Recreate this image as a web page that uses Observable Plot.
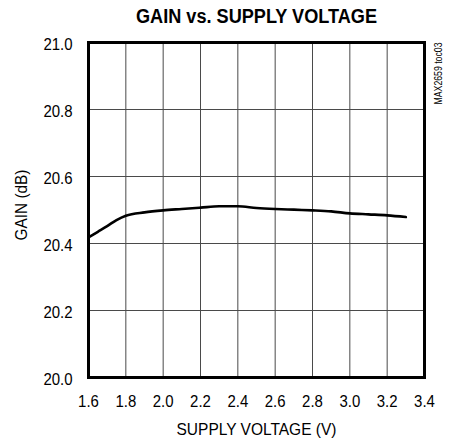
<!DOCTYPE html>
<html>
<head>
<meta charset="utf-8">
<script src="https://cdn.jsdelivr.net/npm/d3@7"></script>
<script src="https://cdn.jsdelivr.net/npm/@observablehq/plot@0.6"></script>
<style>
  html, body { margin: 0; padding: 0; background: #fff; }
  #chart svg { display: block; }
</style>
</head>
<body>
<div id="chart"></div>
<script>
const voltage = [1.6, 1.65, 1.7, 1.75, 1.8, 1.9, 2.0, 2.1, 2.2, 2.3, 2.4, 2.5, 2.6, 2.7, 2.8, 2.9, 3.0, 3.1, 3.2, 3.3];
const gain = [20.418, 20.435, 20.452, 20.470, 20.483, 20.493, 20.499, 20.503, 20.507, 20.511, 20.511, 20.506, 20.503, 20.501, 20.499, 20.496, 20.490, 20.487, 20.484, 20.479];
const xTicks = [1.6, 1.8, 2.0, 2.2, 2.4, 2.6, 2.8, 3.0, 3.2, 3.4];
const yTicks = [20.0, 20.2, 20.4, 20.6, 20.8, 21.0];
const titleText = "GAIN vs. SUPPLY VOLTAGE";
const xLabel = "SUPPLY VOLTAGE (V)";
const yLabel = "GAIN (dB)";
const sideNote = "MAX2659 toc03";

const data = voltage.map((v, i) => ({v, g: gain[i]}));
const font = "'Liberation Sans', Arial, sans-serif";

const chart = Plot.plot({
  width: 449,
  height: 442,
  marginLeft: 88,
  marginRight: 25,
  marginTop: 42,
  marginBottom: 65,
  style: {fontFamily: font, fontSize: "17px", color: "#000", background: "#fff"},
  x: {domain: [1.6, 3.4], ticks: xTicks, tickFormat: d => d.toFixed(1)},
  y: {domain: [20.0, 21.0], ticks: yTicks, tickFormat: d => d.toFixed(1)},
  marks: [
    Plot.gridX(xTicks, {stroke: "#4a4a4a", strokeOpacity: 1, strokeWidth: 1}),
    Plot.gridY(yTicks, {stroke: "#4a4a4a", strokeOpacity: 1, strokeWidth: 1}),
    Plot.axisX(xTicks, {tickSize: 0, tickPadding: 17, fontSize: 17, label: null, tickFormat: d => d.toFixed(1)}),
    Plot.axisY(yTicks, {tickSize: 0, tickPadding: 16, dy: 2, fontSize: 17, label: null, tickFormat: d => d.toFixed(1)}),
    Plot.line(data, {x: "v", y: "g", stroke: "#000", strokeWidth: 2.6, curve: "monotone-x"}),
    Plot.frame({stroke: "#000", strokeWidth: 3}),
    Plot.text([titleText], {frameAnchor: "top", textAnchor: "middle", dy: -33, fontWeight: "bold", fontSize: 19.5, fill: "#000"}),
    Plot.text([xLabel], {frameAnchor: "bottom", textAnchor: "middle", dy: 57, fontSize: 17, fill: "#000"}),
    Plot.text([yLabel], {frameAnchor: "left", textAnchor: "middle", dx: -67, dy: -5, rotate: -90, fontSize: 17, fill: "#000"}),
    Plot.text([sideNote], {frameAnchor: "top-right", textAnchor: "middle", dx: 10, dy: 31, rotate: -90, fontSize: 10.5, fill: "#000"})
  ]
});
document.getElementById("chart").appendChild(chart);

// emulate the condensed typeface of the original by compressing glyphs horizontally
const targetLengths = {[titleText]: 241, [xLabel]: 160, [yLabel]: 71, [sideNote]: 62};
chart.querySelectorAll("text").forEach(t => {
  const s = t.textContent;
  const len = t.getComputedTextLength();
  const target = targetLengths[s] !== undefined ? targetLengths[s] : len * 0.88;
  t.setAttribute("textLength", target);
  t.setAttribute("lengthAdjust", "spacingAndGlyphs");
});
</script>
</body>
</html>
